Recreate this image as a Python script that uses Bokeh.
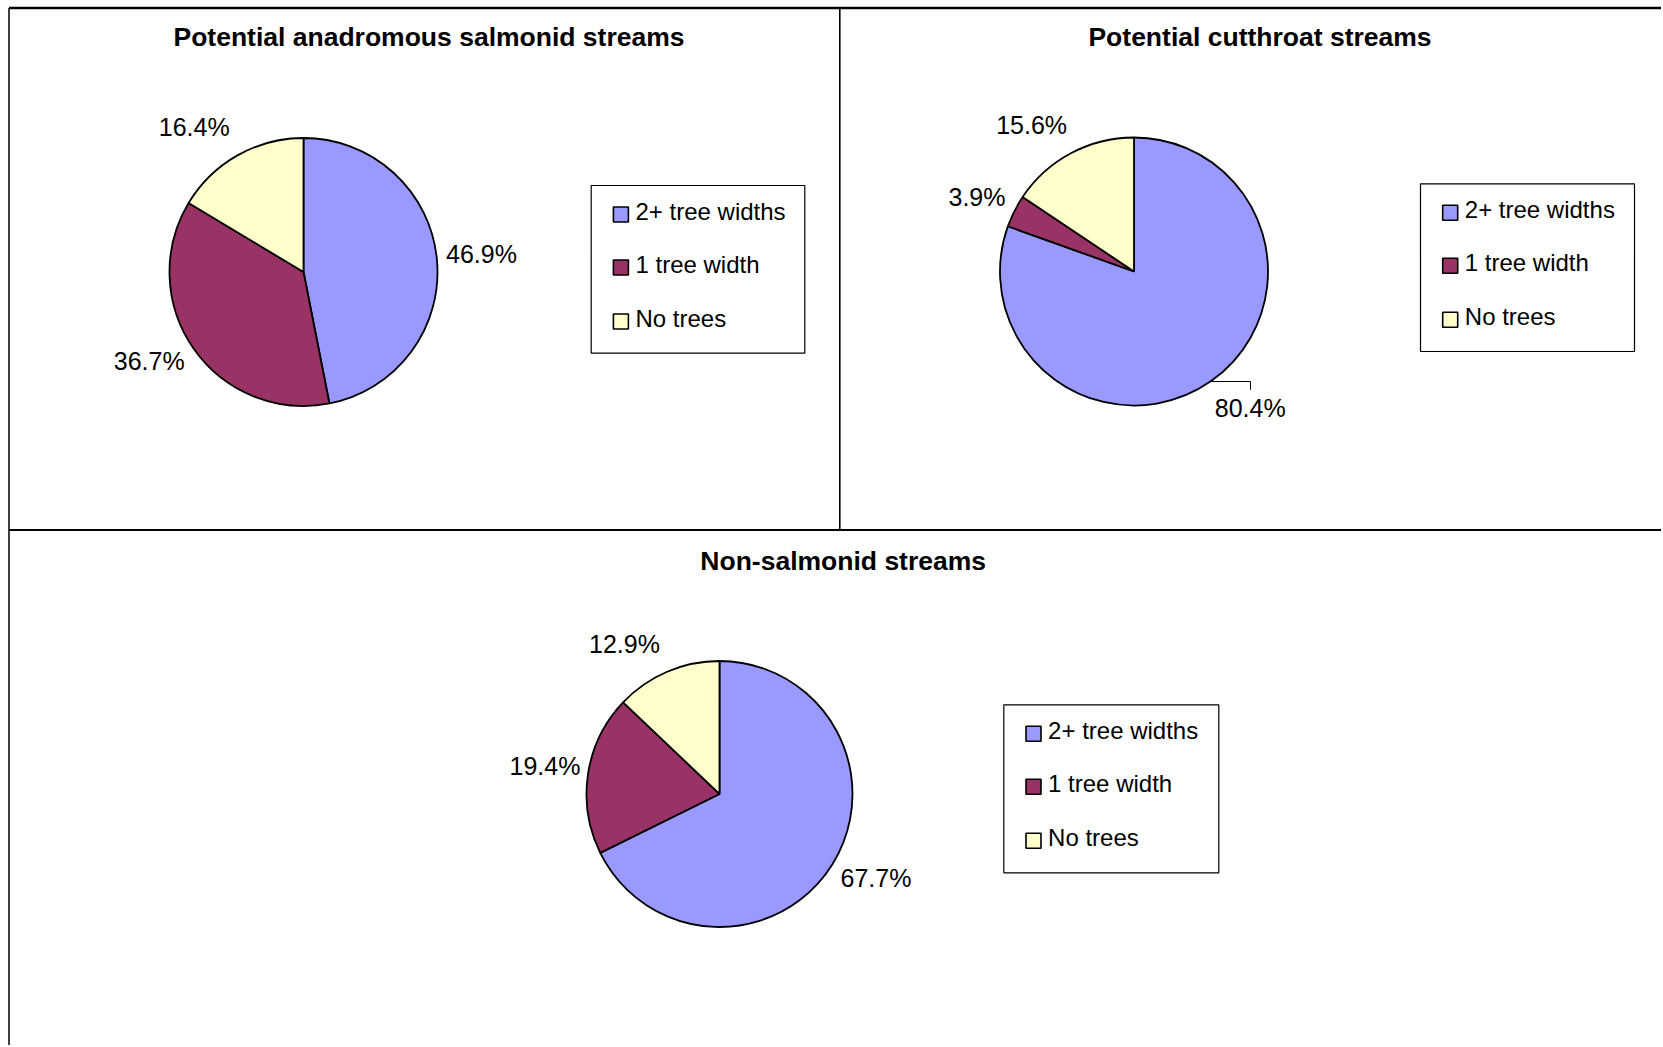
import math
from bokeh.plotting import figure
from bokeh.models import Range1d, ColumnDataSource
from bokeh.embed import file_html
from bokeh.resources import INLINE
from bokeh.core.properties import value

# ---------------- data ----------------
categories = ["2+ tree widths", "1 tree width", "No trees"]
titles = ["Potential anadromous salmonid streams",
          "Potential cutthroat streams",
          "Non-salmonid streams"]
anadromous = [46.9, 36.7, 16.4]
cutthroat = [80.4, 3.9, 15.6]
non_salmonid = [67.7, 19.4, 12.9]

colors = ["#9999FF", "#993366", "#FFFFCC"]
FONT = value("Liberation Sans")

# ---------------- page / figure ----------------
W, H = 1661, 1045
p = figure(width=W, height=H,
           x_range=Range1d(0, W), y_range=Range1d(-H, 0),
           x_axis_type=None, y_axis_type=None,
           toolbar_location=None, output_backend="svg", min_border=0)
p.outline_line_color = None
p.background_fill_color = "white"
p.border_fill_color = "white"


def Y(y):
    return -y


def TY(y, fs):
    # baseline correction for svg text rendering
    return -(y - 0.39 * fs)


# panel frame lines (table-like borders)
p.segment(x0=[8.5, 8.5, 8.5, 839.3], y0=[Y(7.5), Y(529.5), Y(7.5), Y(7.5)],
          x1=[W, W, 8.5, 839.3], y1=[Y(7.5), Y(529.5), Y(H), Y(529.5)],
          line_color="black", line_width=[2.4, 2.2, 1.5, 1.6])

# layout for each panel (positions only)
layout = [
    dict(values=anadromous, cx=303.0, cy=271.5, r=134.0,
         title_x=428.5, title_y=47.0,
         box=(590.7, 185.0, 804.3, 352.7),
         labels=[(445.5, 263.6), (113.3, 370.7), (158.3, 136.7)],
         leader=None),
    dict(values=cutthroat, cx=1133.5, cy=271.0, r=134.0,
         title_x=1259.5, title_y=47.0,
         box=(1420.0, 183.3, 1634.0, 351.0),
         labels=[(1214.3, 417.3), (948.0, 206.0), (995.7, 134.3)],
         leader=(381.0, 1250.0, 389.3)),
    dict(values=non_salmonid, cx=719.0, cy=793.5, r=133.0,
         title_x=842.7, title_y=570.4,
         box=(1003.3, 704.3, 1218.3, 872.3),
         labels=[(840.0, 887.4), (509.0, 775.5), (588.5, 652.8)],
         leader=None),
]

TFS, LFS, GFS = 26.5, 25, 24

for title, L in zip(titles, layout):
    vals = L["values"]
    total = sum(vals)
    cum = [0.0]
    for v in vals:
        cum.append(cum[-1] + v / total)
    # Excel style: start at 12 o'clock, clockwise
    start = [math.radians(90 - 360 * cum[i + 1]) for i in range(len(vals))]
    end = [math.radians(90 - 360 * cum[i]) for i in range(len(vals))]
    src = ColumnDataSource(dict(start=start, end=end, color=colors, cat=categories, val=vals))
    p.wedge(x=L["cx"], y=Y(L["cy"]), radius=L["r"], start_angle="start", end_angle="end",
            fill_color="color", line_color="black", line_width=1.8, source=src)

    # title
    p.text(x=[L["title_x"]], y=[TY(L["title_y"], TFS)], text=[title],
           text_font=FONT, text_font_style="bold", text_font_size="%.1fpx" % TFS,
           text_align="center", text_baseline="alphabetic", text_color="black")

    # percentage labels
    lx = [a for a, b in L["labels"]]
    ly = [TY(b, LFS) for a, b in L["labels"]]
    p.text(x=lx, y=ly, text=["%.1f%%" % v for v in vals],
           text_font=FONT, text_font_size="%dpx" % LFS,
           text_align="left", text_baseline="alphabetic", text_color="black")

    # leader line
    if L["leader"] is not None:
        yl, xr, yb = L["leader"]
        dx = math.sqrt(max(L["r"] ** 2 - (yl - L["cy"]) ** 2, 0))
        xs = L["cx"] + dx
        p.line(x=[xs, xr, xr], y=[Y(yl), Y(yl), Y(yb)], line_color="black", line_width=1)

    # legend box
    bl, bt, br, bb = L["box"]
    p.quad(left=[bl], right=[br], top=[Y(bt)], bottom=[Y(bb)],
           fill_color="white", line_color="black", line_width=1.2)
    offs = [29.0, 82.0, 136.0]
    mx = bl + 29.7
    p.rect(x=[mx] * 3, y=[Y(bt + o) for o in offs], width=15, height=15,
           fill_color=colors, line_color="black", line_width=1.6)
    p.text(x=[bl + 44.3] * 3, y=[TY(bt + o + 6.5, GFS) for o in offs], text=categories,
           text_font=FONT, text_font_size="%dpx" % GFS,
           text_align="left", text_baseline="alphabetic", text_color="black")

open("out.html", "w").write(file_html(p, INLINE))
